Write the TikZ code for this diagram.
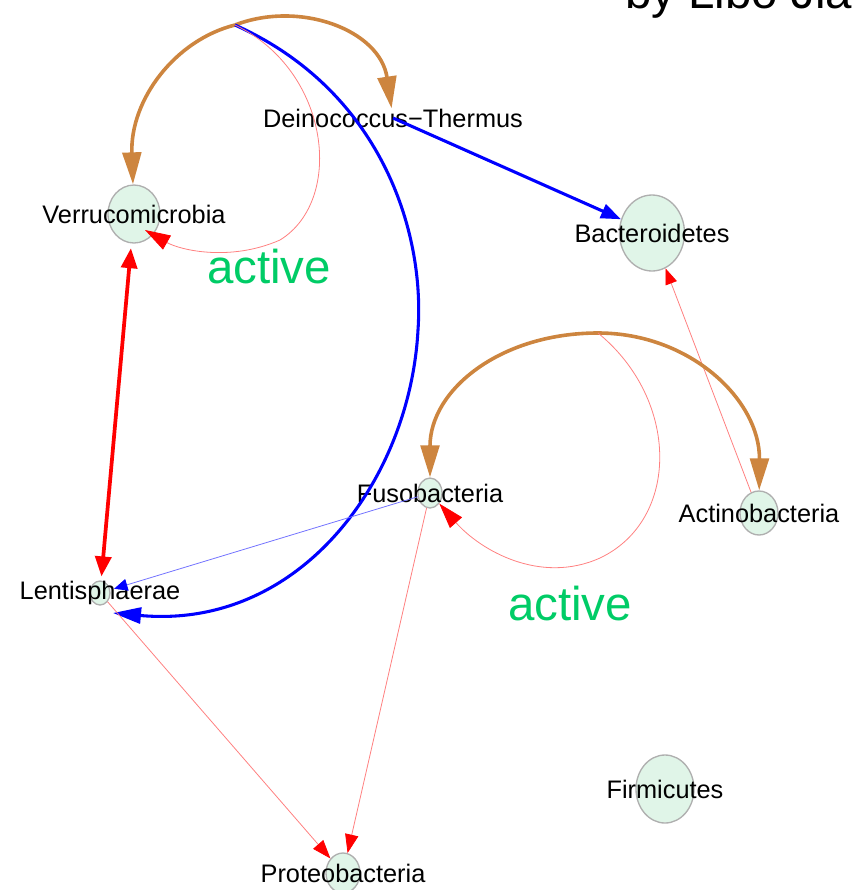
\documentclass[tikz,border=0pt]{standalone}
\usepackage{fontspec}
\setmainfont{Liberation Sans}
\usepackage{tikz}
\usetikzlibrary{arrows.meta,shapes.geometric}
\definecolor{vtxfill}{RGB}{224,245,232}
\definecolor{vtxline}{RGB}{175,175,175}
\definecolor{edgebrown}{RGB}{205,133,63}
\definecolor{activegreen}{RGB}{0,204,102}

\begin{document}
\begin{tikzpicture}[
  x=0.75pt, y=-0.75pt,
  vtx/.style={ellipse, draw=vtxline, fill=vtxfill, line width=1pt, inner sep=0pt},
  taxon/.style={font=\fontsize{19}{23}\selectfont, inner sep=0pt},
  note/.style={font=\fontsize{35.6}{42}\selectfont, inner sep=0pt, anchor=base},
  brn/.style={draw=edgebrown, line width=2.7pt, -{Triangle[length=24pt,width=14pt]}},
  bluthick/.style={draw=blue, line width=2.3pt, -{Triangle[length=21pt,width=12pt]}},
  bluthin/.style={draw=blue!55, line width=0.6pt, -{Triangle[length=10pt,width=9pt,color=blue]}},
  rdthick/.style={draw=red, line width=2.8pt, {Triangle[length=15pt,width=12pt]}-{Triangle[length=15pt,width=12pt]}},
  rdthin/.style={draw=red!50, line width=0.6pt, -{Triangle[length=14pt,width=10pt,color=red]}},
  rdloop/.style={rdthin, -{Triangle[length=19pt,width=12pt,color=red]}},
]
\useasboundingbox (0,0) rectangle (859,890);

% vertices
\node[vtx, minimum width=39pt, minimum height=43.5pt, label={[taxon]center:Verrucomicrobia}] (verru) at (134,214) {};
\node[taxon] (deino) at (393,118) {Deinococcus−Thermus};
\node[vtx, minimum width=48.75pt, minimum height=57pt, label={[taxon]center:Bacteroidetes}] (bacter) at (652,233) {};
\node[vtx, minimum width=18pt, minimum height=22.5pt, label={[taxon]center:Fusobacteria}] (fuso) at (430,493) {};
\node[vtx, minimum width=28.5pt, minimum height=33pt, label={[taxon]center:Actinobacteria}] (actino) at (759,513) {};
\node[vtx, minimum width=15pt, minimum height=18pt, label={[taxon]center:Lentisphaerae}] (lenti) at (100,593) {};
\node[vtx, minimum width=25.5pt, minimum height=30pt, label={[taxon]center:Proteobacteria}] (proteo) at (343,873) {};
\node[vtx, minimum width=43.5pt, minimum height=51pt, label={[taxon]center:Firmicutes}] (firmi) at (665,789) {};

\coordinate (hubA) at (235,25);
\coordinate (hubB) at (598,333);

% edges
\draw[brn] (hubA) .. controls (175,40) and (130,100) .. (verru);
\draw[brn] (hubA) .. controls (300,0) and (380,30) .. (deino);
\draw[bluthick] (hubA) .. controls (380,90) and (425,230) .. (418,330)
  .. controls (410,480) and (300,630) .. ([shift={(13,20)}]lenti.center);
\draw[rdloop] (hubA) .. controls (330,70) and (345,200) .. (280,240)
  .. controls (230,262) and (180,250) .. ([shift={(11,16)}]verru.center);
\draw[bluthick, -{Triangle[length=15pt,width=11pt]}] (deino.center) -- (bacter);
\draw[rdthick, shorten <=3.5pt, shorten >=3pt] (verru) -- (lenti);
\draw[bluthin, shorten >=3pt] (fuso) -- (lenti);
\draw[rdthin] (lenti) -- (proteo);
\draw[rdthin] (fuso) -- (proteo);
\draw[rdthin, -{Triangle[length=12pt,width=9pt,color=red]}] (actino) -- (bacter);
\draw[brn] (hubB) .. controls (500,333) and (430,390) .. (fuso);
\draw[brn] (hubB) .. controls (690,333) and (760,400) .. (actino);
\draw[rdloop] (hubB) .. controls (680,400) and (680,520) .. (600,558)
  .. controls (540,585) and (480,550) .. (fuso);

\node[note, text=activegreen] (act1) at (269,283) {active};
\node[note, text=activegreen] (act2) at (570,620) {active};
\node[note, anchor=base west] (credit) at (625,8) {by Libo Jia};
\end{tikzpicture}
\end{document}
